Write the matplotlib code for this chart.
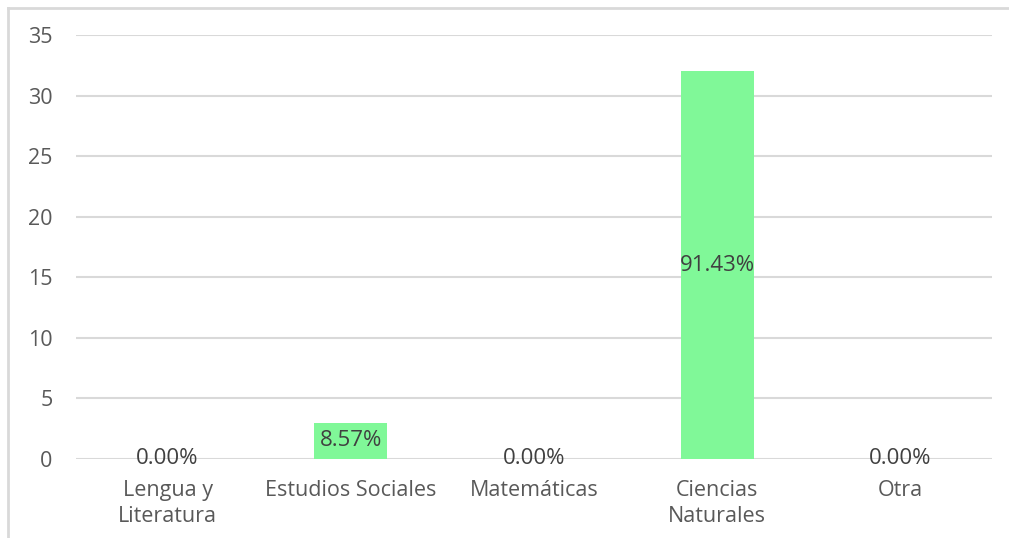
import matplotlib.pyplot as plt
from matplotlib.lines import Line2D

categories = ["Lengua y\nLiteratura", "Estudios Sociales", "Matemáticas", "Ciencias\nNaturales", "Otra"]
counts = [0, 3, 0, 32, 0]
labels = ["0.00%", "8.57%", "0.00%", "91.43%", "0.00%"]
yticks = [0, 5, 10, 15, 20, 25, 30, 35]

plt.rcParams['font.family'] = ['Open Sans', 'DejaVu Sans']

W, H = 1009, 538
fig = plt.figure(figsize=(W / 100, H / 100), dpi=100)
ax = fig.add_axes([76 / W, 1 - 459 / H, (992 - 76) / W, (459 - 35) / H])

x = range(len(categories))
ax.bar(x, counts, width=0.4, color="#80F898", zorder=2)

for i, (c, lab) in enumerate(zip(counts, labels)):
    ax.text(i, c / 2, lab, ha="center", va="center", fontsize=16, color="#404040", zorder=3)

ax.set_xlim(-0.5, len(categories) - 0.5)
ax.set_ylim(0, 35)
ax.set_yticks(yticks)
ax.yaxis.grid(True, color="#D9D9D9", linewidth=1.5, zorder=0)
ax.set_xticks(list(x))
ax.set_xticklabels(categories, fontsize=15.5, color="#595959", linespacing=1.3)
ax.tick_params(axis="y", labelsize=15.5, labelcolor="#595959", length=0, pad=17)
ax.tick_params(axis="x", length=0, pad=15)
for s in ax.spines.values():
    s.set_visible(False)
ax.set_axisbelow(True)

# chart frame (top and left visible)
fig.add_artist(Line2D([8 / W, 1], [1 - 8 / H, 1 - 8 / H], color="#D9D9D9", linewidth=2))
fig.add_artist(Line2D([8 / W, 8 / W], [0, 1 - 8 / H], color="#D9D9D9", linewidth=2))

fig.savefig("out.png", dpi=100)
